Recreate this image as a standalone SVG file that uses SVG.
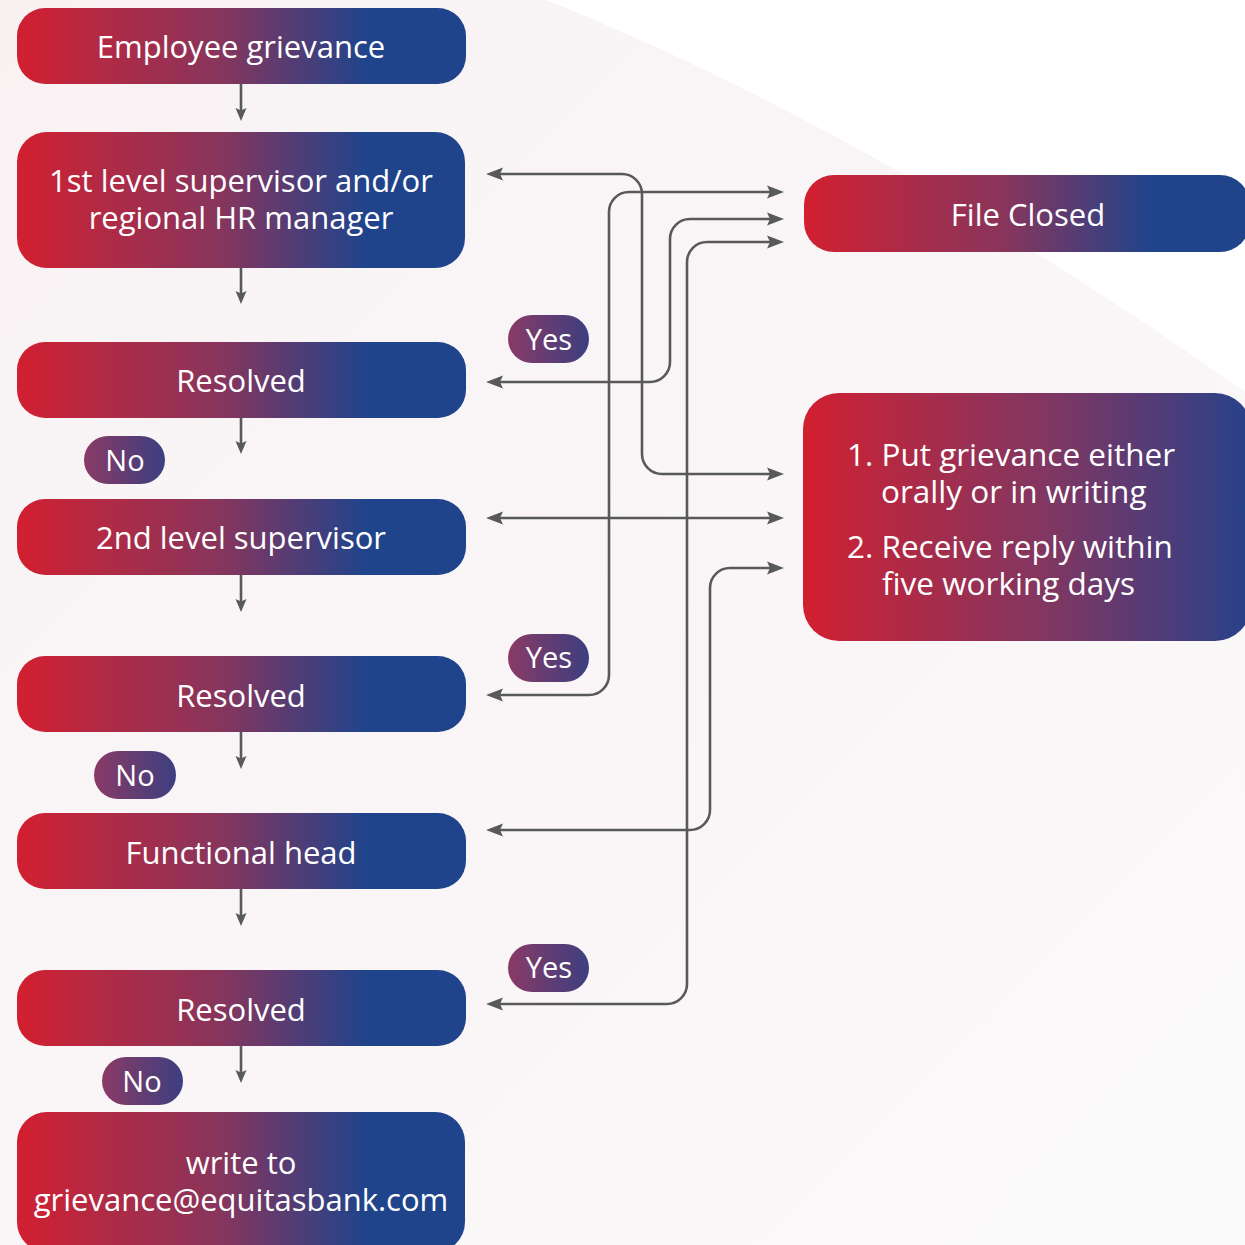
<svg xmlns="http://www.w3.org/2000/svg" width="1245" height="1245" viewBox="0 0 1245 1245">
<defs>
<linearGradient id="bg" x1="0" y1="0" x2="1" y2="1">
<stop offset="0" stop-color="#f8f2f3"/>
<stop offset="0.6" stop-color="#faf6f7"/>
<stop offset="1" stop-color="#fbfafa"/>
</linearGradient>
<linearGradient id="node" x1="0" y1="0" x2="1" y2="0">
<stop offset="0" stop-color="#d21f30"/>
<stop offset="0.2" stop-color="#b02a45"/>
<stop offset="0.45" stop-color="#88355c"/>
<stop offset="0.78" stop-color="#1f448c"/>
<stop offset="1" stop-color="#1f448c"/>
</linearGradient>
<linearGradient id="wide" x1="0" y1="0" x2="1" y2="0">
<stop offset="0" stop-color="#d21f30"/>
<stop offset="0.25" stop-color="#ab2b48"/>
<stop offset="0.55" stop-color="#803762"/>
<stop offset="0.8" stop-color="#503c78"/>
<stop offset="1" stop-color="#26428a"/>
</linearGradient>
<linearGradient id="pill" x1="0" y1="0" x2="1" y2="0">
<stop offset="0" stop-color="#8a3a66"/>
<stop offset="1" stop-color="#3c3f80"/>
</linearGradient>
<marker id="ah" markerUnits="userSpaceOnUse" markerWidth="18" markerHeight="14" refX="9" refY="7" orient="auto-start-reverse">
<path d="M0,0.5 L17,7 L0,13.5 L3,7 z" fill="#58595b"/>
</marker>
<marker id="ahs" markerUnits="userSpaceOnUse" markerWidth="14" markerHeight="12" refX="6" refY="6" orient="auto">
<path d="M0,0.5 L13,6 L0,11.5 L2.5,6 z" fill="#58595b"/>
</marker>
</defs>
<style>
.n{fill:url(#node)}
.w{fill:url(#wide)}
.p{fill:url(#pill)}
.t{font-family:"Open Sans","Noto Sans","DejaVu Sans",sans-serif;font-size:31px;fill:#ffffff;text-anchor:middle}
.pt{font-family:"Open Sans","Noto Sans","DejaVu Sans",sans-serif;font-size:29px;fill:#ffffff;text-anchor:middle}
.tl{font-family:"Open Sans","Noto Sans","DejaVu Sans",sans-serif;font-size:31.5px;fill:#ffffff}
.c{fill:none;stroke:#58595b;stroke-width:2.6}
</style>
<rect width="1245" height="1245" fill="url(#bg)"/>
<path d="M546,0 C760,85 1010,225 1245,392 L1245,0 Z" fill="#ffffff"/>

<g id="connectors">
<path class="c" d="M241,84 V114" marker-end="url(#ahs)"/>
<path class="c" d="M241,268 V297" marker-end="url(#ahs)"/>
<path class="c" d="M241,418 V447" marker-end="url(#ahs)"/>
<path class="c" d="M241,575 V605" marker-end="url(#ahs)"/>
<path class="c" d="M241,732 V762" marker-end="url(#ahs)"/>
<path class="c" d="M241,889 V919" marker-end="url(#ahs)"/>
<path class="c" d="M241,1046 V1076" marker-end="url(#ahs)"/>
<path class="c" d="M494,174 H622 A20,20 0 0 1 642,194 V454 A20,20 0 0 0 662,474 H776" marker-start="url(#ah)" marker-end="url(#ah)"/>
<path class="c" d="M494,695 H589 A20,20 0 0 0 609,675 V212 A20,20 0 0 1 629,192 H776" marker-start="url(#ah)" marker-end="url(#ah)"/>
<path class="c" d="M494,382 H650 A20,20 0 0 0 670,362 V239 A20,20 0 0 1 690,219 H776" marker-start="url(#ah)" marker-end="url(#ah)"/>
<path class="c" d="M494,1004 H667 A20,20 0 0 0 687,984 V262 A20,20 0 0 1 707,242 H776" marker-start="url(#ah)" marker-end="url(#ah)"/>
<path class="c" d="M494,518 H776" marker-start="url(#ah)" marker-end="url(#ah)"/>
<path class="c" d="M494,830 H690 A20,20 0 0 0 710,810 V588 A20,20 0 0 1 730,568 H776" marker-start="url(#ah)" marker-end="url(#ah)"/>
</g>

<g id="n-employee"><rect class="n" x="17" y="8" width="449" height="76" rx="28"/><text class="t" x="241" y="58">Employee grievance</text></g>
<g id="n-first"><rect class="n" x="17" y="132" width="448" height="136" rx="30"/><text class="t" x="241" y="192">1st level supervisor and/or<tspan x="241" dy="37">regional HR manager</tspan></text></g>
<g id="n-resolved1"><rect class="n" x="17" y="342" width="449" height="76" rx="28"/><text class="t" x="241" y="392">Resolved</text></g>
<g id="p-no1"><rect class="p" x="84" y="436" width="81" height="48" rx="24"/><text class="pt" x="125" y="471">No</text></g>
<g id="n-second"><rect class="n" x="17" y="499" width="449" height="76" rx="28"/><text class="t" x="241" y="549">2nd level supervisor</text></g>
<g id="p-yes1"><rect class="p" x="508" y="315" width="81" height="48" rx="24"/><text class="pt" x="549" y="350">Yes</text></g>
<g id="n-resolved2"><rect class="n" x="17" y="656" width="449" height="76" rx="28"/><text class="t" x="241" y="707">Resolved</text></g>
<g id="p-yes2"><rect class="p" x="508" y="634" width="81" height="48" rx="24"/><text class="pt" x="549" y="668">Yes</text></g>
<g id="p-no2"><rect class="p" x="94" y="751" width="82" height="48" rx="24"/><text class="pt" x="135" y="786">No</text></g>
<g id="n-functional"><rect class="n" x="17" y="813" width="449" height="76" rx="28"/><text class="t" x="241" y="864">Functional head</text></g>
<g id="n-resolved3"><rect class="n" x="17" y="970" width="449" height="76" rx="28"/><text class="t" x="241" y="1021">Resolved</text></g>
<g id="p-yes3"><rect class="p" x="508" y="944" width="81" height="48" rx="24"/><text class="pt" x="549" y="978">Yes</text></g>
<g id="p-no3"><rect class="p" x="102" y="1057" width="81" height="48" rx="24"/><text class="pt" x="142" y="1092">No</text></g>
<g id="n-write"><rect class="n" x="17" y="1112" width="448" height="140" rx="30"/><text class="t" x="241" y="1174">write to<tspan x="241" dy="37">grievance@equitasbank.com</tspan></text></g>
<g id="n-closed"><rect class="n" x="804" y="175" width="446" height="77" rx="30"/><text class="t" x="1028" y="226">File Closed</text></g>
<g id="n-info"><rect class="w" x="803" y="393" width="448" height="248" rx="36"/>
<text class="tl" x="847" y="466">1. Put grievance either<tspan x="881" dy="37">orally or in writing</tspan></text>
<text class="tl" x="847" y="558">2. Receive reply within<tspan x="882" dy="37">five working days</tspan></text>
</g>
</svg>
